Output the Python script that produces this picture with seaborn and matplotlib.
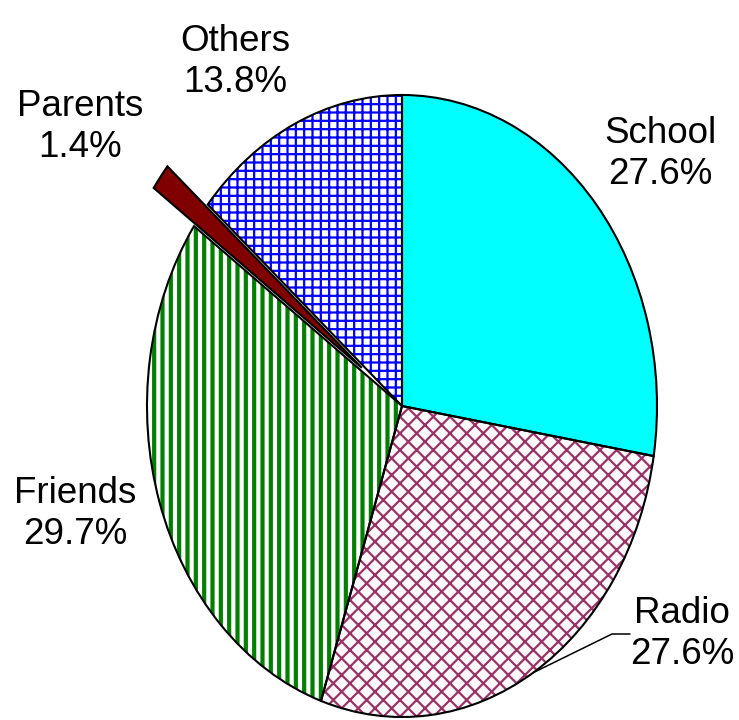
import numpy as np
import matplotlib
matplotlib.use("Agg")
import matplotlib.pyplot as plt
import seaborn as sns

# Source of information (pie chart)
categories = ["School", "Radio", "Friends", "Parents", "Others"]
shares = [27.6, 27.6, 29.7, 1.4, 13.8]
pct_labels = ["27.6%", "27.6%", "29.7%", "1.4%", "13.8%"]

fill_colors = ["#00FFFF", "#FBF8FB", "#FFFFFF", "#800000", "#FFFFFF"]
hatch_colors = ["#00FFFF", "#993366", "#008000", "#800000", "#0000FF"]
hatches = ["", "xx", "||", "", "++"]
explode = [0, 0, 0, 0.2, 0]

sns.set_style("white")
plt.rcParams["font.family"] = ["Liberation Sans", "DejaVu Sans"]
plt.rcParams["hatch.linewidth"] = 1.8

fig = plt.figure(figsize=(7.39, 7.20), dpi=100)
ax = fig.add_axes([0, 0, 1, 1])

# hatched fill first, then the black outlines on top
wedges, _ = ax.pie(shares, startangle=90, counterclock=False, explode=explode,
                   colors=fill_colors, wedgeprops=dict(linewidth=0))
for w, h, hc in zip(wedges, hatches, hatch_colors):
    w.set_hatch(h)
    w.set_edgecolor(hc)
    if hasattr(w, "set_hatch_linewidth"):
        w.set_hatch_linewidth(3.0 if h == "||" else 1.6)

ax.pie(shares, startangle=90, counterclock=False, explode=explode,
       wedgeprops=dict(fill=False, edgecolor="black", linewidth=1.5))

# stretch the pie into an ellipse (radius 255 px wide, 311 px tall)
cx, cy, rx, ry = 402, 406, 255, 311
ax.set_aspect("auto")
ax.set_xlim(-cx / rx, (739 - cx) / rx)
ax.set_ylim(-(720 - cy) / ry, cy / ry)
ax.axis("off")

# label positions (pixels in the 739x720 picture)
label_px = {"School": (660, 154), "Radio": (682, 634), "Friends": (75, 514),
            "Parents": (80, 127), "Others": (235, 62)}
for name, pct in zip(categories, pct_labels):
    px, py = label_px[name]
    ax.text((px - cx) / rx, (cy - py) / ry, f"{name}\n{pct}", ha="center",
            va="center", fontsize=26.5, linespacing=1.2, color="black")

# leader line for Radio from the middle of its edge
start = 90 - shares[0] * 3.6 - shares[1] * 1.8
a = np.deg2rad(start)
x0, y0 = np.cos(a), np.sin(a)
ax.plot([x0, (612 - cx) / rx, (630 - cx) / rx],
        [y0, (cy - 634) / ry, (cy - 634) / ry], color="black", linewidth=1.1)

fig.savefig("out.png", dpi=100)
